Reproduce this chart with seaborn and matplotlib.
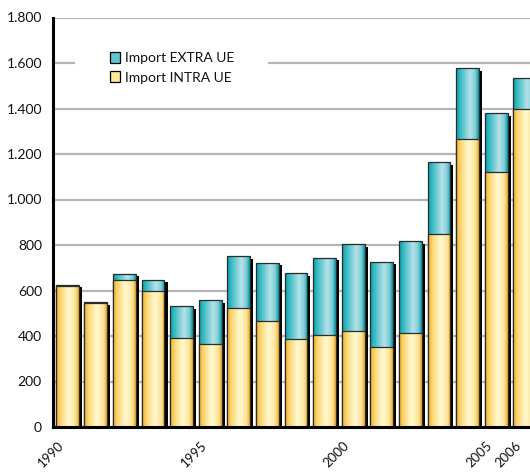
import numpy as np
import seaborn as sns
import matplotlib
import matplotlib.pyplot as plt
from matplotlib.colors import LinearSegmentedColormap
from matplotlib.patches import Patch, Rectangle
from matplotlib.ticker import FuncFormatter
import matplotlib.patheffects as pe

years = [str(y) for y in range(1990, 2007)]
intra = [620, 546, 646, 596, 393, 366, 525, 468, 388, 404, 422, 353, 413, 848, 1268, 1123, 1396]
extra = [6, 4, 28, 52, 140, 192, 226, 255, 288, 341, 382, 374, 403, 317, 308, 258, 139]
labelled = ["1990", "1995", "2000", "2005", "2006"]
legend_labels = ["Import EXTRA UE", "Import INTRA UE"]

totals = [a + b for a, b in zip(intra, extra)]

sns.set_style("white")
plt.rcParams['font.family'] = ['Lato', 'DejaVu Sans']

# horizontal gradients like the original bars
cmap_yellow = LinearSegmentedColormap.from_list(
	"yel", [(0, "#f0ab22"), (0.18, "#fbd46e"), (0.55, "#fff9d0"), (0.85, "#fde49c"), (1, "#eeaa26")])
cmap_cyan = LinearSegmentedColormap.from_list(
	"cya", [(0, "#06a0aa"), (0.2, "#3dbcc5"), (0.62, "#b6e1e9"), (0.85, "#7dcdd5"), (1, "#0398a3")])

fig = plt.figure(figsize=(5.3, 4.75), dpi=100)
ax = fig.add_axes([53 / 530, 48 / 475, 486 / 530, 409.5 / 475])

sns.barplot(x=years, y=totals, color="#5cc7d0", saturation=1, width=0.8, ax=ax)
sns.barplot(x=years, y=intra, color="#fde89a", saturation=1, width=0.8, ax=ax)

n = len(years)
cyan_bars = ax.patches[:n]
yellow_bars = ax.patches[n:2 * n]

grad = np.linspace(0, 1, 64).reshape(1, -1)
for bars, cmap, z in [(cyan_bars, cmap_cyan, 2), (yellow_bars, cmap_yellow, 3)]:
	for p in bars:
		p.set_edgecolor("none")
		p.set_zorder(z)
		if cmap is cmap_cyan:
			p.set_path_effects([pe.SimplePatchShadow(offset=(2.2, -2), shadow_rgbFace="black", alpha=1), pe.Normal()])
		x0, y0 = p.get_x(), p.get_y()
		w, h = p.get_width(), p.get_height()
		im = ax.imshow(grad, cmap=cmap, aspect="auto", extent=(x0, x0 + w, y0, y0 + h),
					   zorder=z + 0.1, interpolation="bicubic")
		im.set_clip_path(p)
		ax.add_patch(Rectangle((x0, y0), w, h, fill=False, edgecolor="#2b2b2b", lw=0.9, zorder=z + 0.2))

ax.set_xlim(-0.5, n - 0.5)
ax.set_ylim(0, 1800)

ax.set_yticks(range(0, 1801, 200))
ax.yaxis.set_major_formatter(FuncFormatter(lambda v, p: f"{int(v):,}".replace(",", ".")))
ax.tick_params(axis="y", length=0, pad=8, labelsize=10, colors="#111111")
ax.yaxis.grid(True, color="#b3b5b8", lw=1.6)
ax.xaxis.grid(False)
ax.set_axisbelow(True)

ax.set_xticks(np.arange(-0.5, n - 0.5, 1))
ax.set_xticklabels([])
ax.tick_params(axis="x", length=4, width=2.2, color="black", direction="out")
for i, yr in enumerate(years):
	if yr in labelled:
		ax.annotate(yr, xy=(i, 0), xycoords=("data", "axes fraction"), xytext=(-4, -12),
					textcoords="offset points", rotation=45, ha="right", va="center",
					rotation_mode="anchor", fontsize=9.5, color="#111111")

for s in ["top", "right"]:
	ax.spines[s].set_visible(False)
for s in ["left", "bottom"]:
	ax.spines[s].set_color("black")
	ax.spines[s].set_linewidth(2.2)
	ax.spines[s].set_zorder(5)

# white box behind the legend hides the gridline
ax.add_patch(Rectangle((75 / 530, 1 - 92 / 475), 193 / 530, 50 / 475, transform=fig.transFigure,
					   facecolor="white", edgecolor="none", zorder=1))

handles = [Patch(facecolor="#5cc7d0", edgecolor="black", lw=0.9),
		   Patch(facecolor="#fde89a", edgecolor="black", lw=0.9)]
leg = ax.legend(handles, legend_labels, loc="upper left", bbox_to_anchor=(110 / 530, 1 - 52 / 475),
				bbox_transform=fig.transFigure, frameon=False, fontsize=10, handlelength=0.75,
				handleheight=0.85, handletextpad=0.3, labelspacing=0.5, borderpad=0, borderaxespad=0)
leg.set_zorder(6)
for t in leg.get_texts():
	t.set_color("#111111")

fig.savefig("out.png", dpi=100)
